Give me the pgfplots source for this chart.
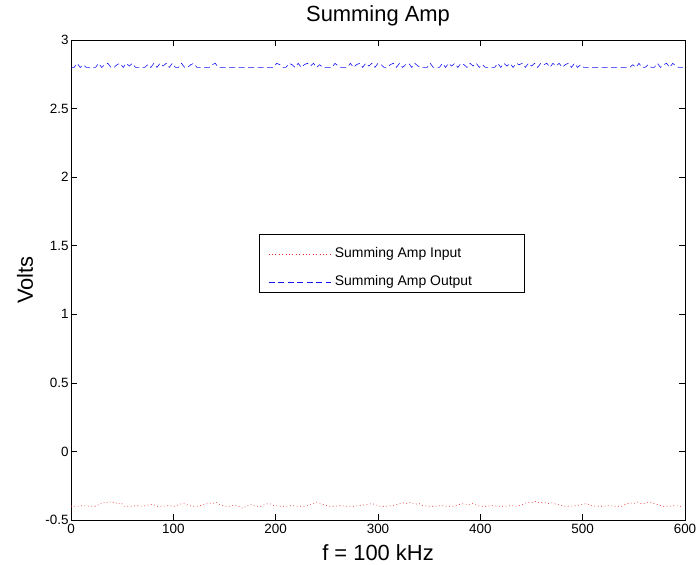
\documentclass[border=0pt]{standalone}
\usepackage{fontspec}
\setmainfont{Liberation Sans}
\usepackage{pgfplots}
\pgfplotsset{compat=1.18}
\usetikzlibrary{calc}
\definecolor{inred}{RGB}{235,40,40}
\definecolor{outblue}{RGB}{20,20,245}

\pgfplotstableread{
x y
0 2.80
3 2.80
6 2.83
9 2.80
12 2.82
15 2.80
18 2.80
21 2.80
24 2.80
27 2.83
30 2.80
33 2.82
36 2.83
39 2.80
42 2.80
45 2.82
48 2.83
51 2.80
54 2.83
57 2.81
60 2.83
63 2.80
66 2.80
69 2.80
72 2.80
75 2.82
78 2.80
81 2.83
84 2.80
87 2.83
90 2.81
93 2.83
96 2.80
99 2.83
102 2.80
105 2.80
108 2.83
111 2.80
114 2.80
117 2.82
120 2.83
123 2.80
126 2.80
129 2.80
132 2.80
135 2.80
138 2.82
141 2.83
144 2.80
150 2.80
160 2.80
170 2.80
180 2.80
190 2.80
198 2.80
201 2.83
204 2.82
207 2.80
210 2.80
213 2.83
216 2.82
219 2.80
222 2.83
225 2.80
228 2.82
231 2.83
234 2.81
237 2.83
240 2.80
243 2.82
246 2.80
249 2.80
252 2.80
255 2.80
258 2.83
261 2.81
264 2.80
267 2.80
270 2.80
273 2.83
276 2.80
279 2.82
282 2.83
285 2.80
288 2.83
291 2.81
294 2.83
297 2.80
300 2.83
303 2.82
306 2.80
309 2.80
312 2.82
315 2.83
318 2.80
321 2.83
324 2.80
327 2.82
330 2.83
333 2.80
336 2.83
339 2.81
342 2.80
345 2.80
348 2.80
351 2.83
354 2.80
357 2.80
360 2.80
363 2.83
366 2.80
369 2.83
372 2.81
375 2.83
378 2.80
381 2.83
384 2.82
387 2.80
390 2.83
393 2.81
396 2.83
399 2.80
402 2.82
405 2.80
408 2.80
411 2.80
414 2.80
417 2.83
420 2.80
423 2.83
426 2.81
429 2.83
432 2.80
435 2.83
438 2.82
441 2.83
444 2.80
447 2.83
450 2.81
453 2.83
456 2.80
459 2.83
462 2.82
465 2.83
468 2.80
471 2.83
474 2.81
477 2.83
480 2.80
483 2.82
486 2.83
489 2.80
492 2.83
495 2.80
498 2.82
501 2.80
510 2.80
520 2.80
530 2.80
540 2.80
546 2.80
549 2.82
552 2.80
555 2.83
558 2.80
561 2.80
564 2.82
567 2.80
570 2.80
573 2.83
576 2.80
579 2.82
582 2.83
585 2.80
588 2.83
591 2.81
594 2.80
598 2.80
}\outdata

\pgfplotstableread{
x y
0 -0.400
6 -0.400
12 -0.395
18 -0.400
24 -0.400
28 -0.385
31 -0.370
34 -0.380
37 -0.365
40 -0.375
43 -0.370
46 -0.385
49 -0.375
52 -0.400
58 -0.400
64 -0.395
70 -0.400
76 -0.390
80 -0.385
84 -0.400
90 -0.400
96 -0.395
102 -0.400
106 -0.385
110 -0.380
114 -0.390
118 -0.400
124 -0.400
130 -0.385
134 -0.375
138 -0.380
142 -0.370
146 -0.390
150 -0.400
156 -0.400
160 -0.390
164 -0.400
168 -0.415
172 -0.395
176 -0.385
180 -0.400
186 -0.400
190 -0.385
194 -0.380
198 -0.395
204 -0.400
210 -0.400
216 -0.395
222 -0.400
228 -0.400
236 -0.385
240 -0.370
244 -0.380
248 -0.390
252 -0.400
258 -0.400
264 -0.395
270 -0.400
276 -0.400
282 -0.395
290 -0.385
294 -0.380
298 -0.390
302 -0.400
308 -0.400
314 -0.395
320 -0.385
324 -0.375
328 -0.380
332 -0.370
336 -0.385
340 -0.380
344 -0.395
350 -0.400
356 -0.400
362 -0.395
368 -0.400
374 -0.400
380 -0.385
384 -0.380
388 -0.390
392 -0.380
396 -0.390
400 -0.400
406 -0.400
412 -0.395
418 -0.400
424 -0.400
430 -0.395
436 -0.400
442 -0.385
446 -0.370
450 -0.375
454 -0.365
458 -0.375
462 -0.370
466 -0.380
470 -0.375
474 -0.385
478 -0.390
482 -0.400
488 -0.400
494 -0.395
500 -0.385
504 -0.380
508 -0.395
514 -0.400
520 -0.400
526 -0.395
532 -0.400
538 -0.400
542 -0.385
546 -0.375
550 -0.380
554 -0.370
558 -0.385
562 -0.375
566 -0.370
570 -0.380
574 -0.390
578 -0.400
584 -0.400
590 -0.395
596 -0.400
598 -0.400
}\indata

\begin{document}
\begin{tikzpicture}
\begin{axis}[name=ax,scale only axis,width=614bp,height=480bp,
  xmin=0,xmax=600,ymin=-0.5,ymax=3,
  xtick={0,100,...,600},ytick={-0.5,0,...,3},
  tick align=inside,tick pos=both,major tick length=6bp,
  axis line style={black,line width=0.5pt},
  tick style={black,line width=0.5pt},
  tick label style={font=\fontsize{13.5}{16}\selectfont},
  /pgf/number format/assume math mode=true,
  yticklabel style={xshift=1bp},
  xticklabel style={yshift=-1bp},
  title={Summing Amp},
  title style={font=\fontsize{22}{26}\selectfont,at={(axis description cs:0.5,1.027)},anchor=base},
  xlabel={f = 100 kHz},
  xlabel style={font=\fontsize{22}{26}\selectfont,at={(axis description cs:0.5,-0.0854)},anchor=base},
  ylabel={Volts},
  ylabel style={font=\fontsize{22}{26}\selectfont,at={(axis description cs:-0.0619,0.5)},anchor=base},
  legend style={at={(axis description cs:0.321,0.525)},anchor=west,draw=none,fill=none,
    font=\fontsize{14}{16}\selectfont,row sep=15bp,column sep=4bp,inner sep=0pt,
    nodes={inner sep=0pt,text height=10bp,text depth=3bp}},
  legend cell align=left,
  legend image code/.code={\draw[#1] (0bp,0bp) -- (62bp,0bp);},
]
\addplot[inred,dash pattern=on 0.8bp off 2.6bp,line width=0.6pt] table[x=x,y=y] {\indata};
\addplot[outblue,dash pattern=on 6bp off 3.5bp,line width=0.6pt] table[x=x,y=y] {\outdata};
\legend{Summing Amp Input,Summing Amp Output}
\draw[black,line width=0.5pt] (rel axis cs:0.306,0.596) rectangle (rel axis cs:0.7375,0.475);
\end{axis}
\pgfresetboundingbox
\path ($(ax.south west)+(-71bp,-45bp)$) rectangle ($(ax.north east)+(13bp,40bp)$);
\end{tikzpicture}
\end{document}
